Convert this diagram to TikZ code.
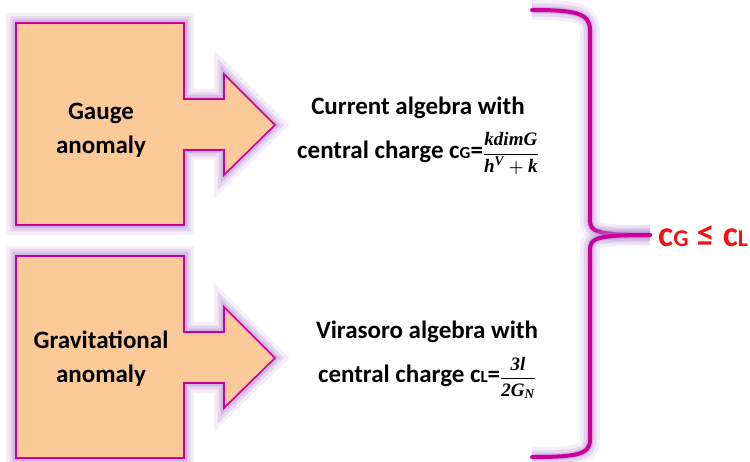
\documentclass[tikz,border=0pt]{standalone}
\usepackage{fontspec}
\setmainfont{Carlito}
\newfontfamily\mathletters{Liberation Serif}
\usepackage{amsmath}
\definecolor{peach}{RGB}{251,202,152}
\definecolor{rim}{RGB}{204,0,153}
\definecolor{haze}{RGB}{180,140,212}
\definecolor{redtxt}{RGB}{236,20,20}
\tikzset{
  glow/.style={
    preaction={draw=haze, line width=20pt, opacity=0.15},
    preaction={draw=haze, line width=13pt, opacity=0.25},
    preaction={draw=haze, line width=7pt, opacity=0.4}},
  blockarrow/.style={glow, fill=peach, draw=rim, line width=1.6pt, line join=miter},
  lbl/.style={font=\bfseries\fontsize{25}{34}\selectfont, align=center, inner sep=0pt},
  eqn/.style={font=\bfseries\fontsize{25}{44}\selectfont, align=center, inner sep=0pt},
  res/.style={font=\bfseries\fontsize{36}{40}\selectfont, text=redtxt, inner sep=0pt}
}
\newcommand{\smallsub}[1]{{\fontsize{17}{17}\selectfont #1}}
\newcommand{\mi}[1]{\text{\mathletters\bfseries\itshape #1}}
\newcommand{\boldfrac}[2]{{\fontsize{19}{20}\selectfont\boldmath$\dfrac{#1}{#2}$}}

\begin{document}
\begin{tikzpicture}[x=1pt, y=-1pt]
    \useasboundingbox (0,0) rectangle (750,462);

    % ブロック矢印 (上)
    \draw[blockarrow] (16,23) -- (184,23) -- (184,99) -- (224,99) -- (224,74)
        -- (275,125) -- (224,175) -- (224,150) -- (184,150) -- (184,225) -- (16,225) -- cycle;
    % ブロック矢印 (下)
    \draw[blockarrow] (16,256) -- (184,256) -- (184,332) -- (224,332) -- (224,307)
        -- (275,358) -- (224,408) -- (224,383) -- (184,383) -- (184,458) -- (16,458) -- cycle;

    % 矢印の中の文字
    \node[lbl] (gauge) at (101,130) {Gauge\\anomaly};
    \node[lbl] (grav) at (101,359) {Gravitational\\anomaly};

    % 右側の説明
    \node[eqn] (current) at (418,136) {Current algebra with\\
        central charge c\smallsub{G}=\boldfrac{\mi{kdimG}}{\mi{h}^{\mi{V}}+\mi{k}}};
    \node[eqn] (virasoro) at (427,360) {Virasoro algebra with\\
        central charge c\smallsub{L}=\boldfrac{\mi{3l}}{\mi{2G}_{\mi{N}}}};

    % 大きな括弧
    \draw[glow, rim, line width=4pt, line cap=round]
        (532,10) .. controls (575,10) and (590,13) .. (590,30) -- (590,220)
        .. controls (590,232) and (596,235) .. (650,235);
    \draw[glow, rim, line width=4pt, line cap=round]
        (650,235) .. controls (596,235) and (590,238) .. (590,250) -- (590,440)
        .. controls (590,455) and (575,457) .. (532,457);

    % 結論
    \node[res, anchor=west] (ineq) at (658,236) {c{\fontsize{24}{24}\selectfont G} ≤ c{\fontsize{24}{24}\selectfont L}};
\end{tikzpicture}
\end{document}
